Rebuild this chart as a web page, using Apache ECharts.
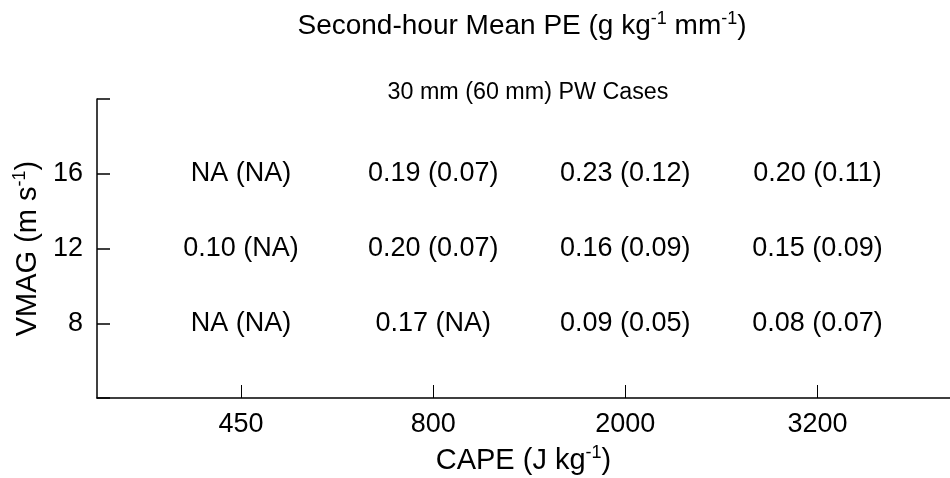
<!DOCTYPE html>
<html>
<head>
<meta charset="utf-8">
<script src="https://cdn.jsdelivr.net/npm/echarts@6/dist/echarts.min.js"></script>
<style>html,body{margin:0;padding:0;background:#fff}#c{width:950px;height:478px}</style>
</head>
<body>
<div id="c"></div>
<script>
const capeLabels = ['450', '800', '2000', '3200'];
const vmagValues = [16, 12, 8];
const row16 = ['NA (NA)', '0.19 (0.07)', '0.23 (0.12)', '0.20 (0.11)'];
const row12 = ['0.10 (NA)', '0.20 (0.07)', '0.16 (0.09)', '0.15 (0.09)'];
const row8 = ['NA (NA)', '0.17 (NA)', '0.09 (0.05)', '0.08 (0.07)'];
const rows = [row16, row12, row8];

const FONT = 'Liberation Sans, Arial, sans-serif';
const data = [];
rows.forEach((row, ri) => {
  row.forEach((txt, ci) => {
    data.push({ value: [ci + 1, vmagValues[ri]], label: { formatter: txt } });
  });
});

const supRich = {
  n: { fontFamily: FONT, fontSize: 29, fontWeight: 'normal', color: '#000' },
  s: { fontFamily: FONT, fontSize: 18, fontWeight: 'normal', color: '#000', verticalAlign: 'top', padding: [0, 0, 15, 0] }
};
const supRichT = {
  n: { fontFamily: FONT, fontSize: 28, fontWeight: 'normal', color: '#000' },
  s: { fontFamily: FONT, fontSize: 18, fontWeight: 'normal', color: '#000', verticalAlign: 'top', padding: [0, 0, 15, 0] }
};

const chart = echarts.init(document.getElementById('c'), null, { renderer: 'canvas' });
chart.setOption({
  animation: false,
  backgroundColor: '#fff',
  title: [
    {
      text: '{n|Second-hour Mean PE (g kg}{s|-1}{n| mm}{s|-1}{n|)}',
      left: 517, top: 5, textAlign: 'center',
      textStyle: { fontWeight: 'normal', rich: supRichT }
    },
    {
      text: '30 mm (60 mm) PW Cases',
      left: 523, top: 76, textAlign: 'center',
      textStyle: { fontFamily: FONT, fontSize: 23.3, fontWeight: 'normal', color: '#000' }
    }
  ],
  grid: { left: 97, right: 0, top: 99, bottom: 80, containLabel: false, outerBoundsMode: 'none' },
  xAxis: {
    type: 'value', min: 0.25, max: 4.69,
    name: '{n|CAPE (J kg}{s|-1}{n|)}',
    nameLocation: 'middle', nameGap: 46,
    nameTextStyle: { rich: supRich },
    axisLine: { show: true, lineStyle: { color: '#000', width: 1.5 } },
    axisTick: { show: true, inside: true, length: 13, customValues: [1, 2, 3, 4], lineStyle: { color: '#000', width: 1 } },
    axisLabel: {
      customValues: [1, 2, 3, 4], margin: 13,
      fontFamily: FONT, fontSize: 27, color: '#000',
      formatter: v => capeLabels[Math.round(v) - 1] || ''
    },
    splitLine: { show: false }
  },
  yAxis: {
    type: 'value', min: 4, max: 20, interval: 4,
    name: '{n|VMAG (m s}{s|-1}{n|)}',
    nameLocation: 'middle', nameGap: 51, nameRotate: 90,
    nameTextStyle: { rich: supRich },
    axisLine: { show: true, lineStyle: { color: '#000', width: 1.5 } },
    axisTick: { show: true, inside: true, length: 13, lineStyle: { color: '#000', width: 1.5 } },
    axisLabel: {
      margin: 14, fontFamily: FONT, fontSize: 27, color: '#000',
      formatter: v => (vmagValues.indexOf(v) >= 0 ? String(v) : '')
    },
    splitLine: { show: false }
  },
  series: [{
    type: 'scatter',
    symbolSize: 0,
    itemStyle: { opacity: 1 },
    data: data,
    label: {
      show: true, position: 'inside', opacity: 1,
      fontFamily: FONT, fontSize: 27, color: '#000'
    },
    silent: true
  }]
});
</script>
</body>
</html>
